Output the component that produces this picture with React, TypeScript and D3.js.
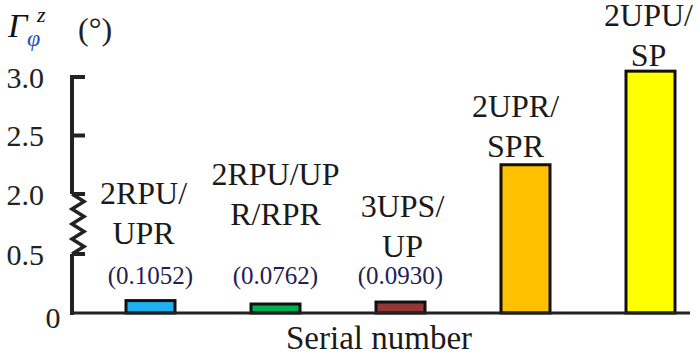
import React from "react";
import * as d3 from "d3";

// ---- data ----
const categories = ["2RPU/UPR", "2RPU/UPR/RPR", "3UPS/UP", "2UPR/SPR", "2UPU/SP"];
const labelLines = [
  ["2RPU/", "UPR"],
  ["2RPU/UP", "R/RPR"],
  ["3UPS/", "UP"],
  ["2UPR/", "SPR"],
  ["2UPU/", "SP"],
];
const values = [0.1052, 0.0762, 0.093, 2.25, 3.05];
const valueLabels = ["(0.1052)", "(0.0762)", "(0.0930)", "", ""];
const yTickValues = [0.5, 2.0, 2.5, 3.0];
const yTickLabels = ["0.5", "2.0", "2.5", "3.0"];
const xTitle = "Serial number";

// ---- styles / layout ----
const barColors = ["#1fb0f0", "#00b050", "#943634", "#ffc000", "#ffff00"];
const labelDx = [-7, 0, 2, -10, -2];
const labelDy = [0, -19, 13, 0, 3];

const W = 700;
const H = 355;
const FONT = "Liberation Serif, Tinos, DejaVu Serif, Times New Roman, serif";

export default function App() {
  const axisX = 72;
  const y = d3
    .scaleLinear()
    .domain([0, 0.5, 2.0, 3.0])
    .range([313, 254, 194, 77]);
  const x = d3
    .scaleBand<string>()
    .domain(categories)
    .range([88, 713])
    .paddingInner(0.608)
    .paddingOuter(0.304);

  const y0 = y(0);
  const zzTop = y(2.0);
  const zzBot = y(0.5);
  const nSeg = 8;
  const zzPts: [number, number][] = d3.range(nSeg + 1).map((i) => [
    i === 0 || i === nSeg ? axisX : i % 2 === 1 ? axisX + 12 : axisX,
    zzTop + ((zzBot - zzTop) * i) / nSeg,
  ]);
  const zz = d3.line()(zzPts) || "";

  const lineGap = 40;

  return (
    <svg
      width={W}
      height={H}
      style={{ position: "absolute", left: 0, top: 0, background: "#fff", fontFamily: FONT }}
    >
      {/* y-axis label */}
      <text x={8} y={37} fontSize={34} fontStyle="italic" fill="#111" style={{ fontFamily: FONT }}>
        Γ
      </text>
      <text x={27} y={46} fontSize={24} fontStyle="italic" fill="#1f4fbf" style={{ fontFamily: FONT }}>
        φ
      </text>
      <text x={37} y={22} fontSize={22} fontStyle="italic" fill="#111" style={{ fontFamily: FONT }}>
        z
      </text>
      <text x={78} y={40} fontSize={32} fill="#222" style={{ fontFamily: FONT }}>
        (°)
      </text>

      {/* bars */}
      {values.map((v, i) => {
        const bx = x(categories[i]) as number;
        return (
          <rect
            key={"b" + i}
            x={bx}
            y={y(v)}
            width={x.bandwidth()}
            height={y0 - y(v)}
            fill={barColors[i]}
            stroke="#111"
            strokeWidth={3}
          />
        );
      })}

      {/* axes */}
      <line x1={axisX} x2={axisX} y1={y(3.0) - 2} y2={zzTop} stroke="#222" strokeWidth={4} />
      <path d={zz} fill="none" stroke="#222" strokeWidth={3.5} strokeLinejoin="miter" />
      <line x1={axisX} x2={axisX} y1={zzBot} y2={y0 + 2} stroke="#222" strokeWidth={4} />
      <line x1={axisX - 2} x2={690} y1={y0} y2={y0} stroke="#222" strokeWidth={3} />
      {yTickValues.map((t, i) => (
        <g key={"t" + i}>
          <line x1={axisX} x2={axisX + 13} y1={y(t)} y2={y(t)} stroke="#222" strokeWidth={4} />
          <text
            x={44}
            y={y(t)}
            dy="0.35em"
            textAnchor="end"
            fontSize={30}
            fill="#222"
            style={{ fontFamily: FONT }}
          >
            {yTickLabels[i]}
          </text>
        </g>
      ))}
      <text x={53} y={328} textAnchor="middle" fontSize={30} fill="#222" style={{ fontFamily: FONT }}>
        0
      </text>

      {/* bar labels */}
      {values.map((v, i) => {
        const cx = (x(categories[i]) as number) + x.bandwidth() / 2;
        const hasVal = valueLabels[i] !== "";
        const valBase = y0 - 29;
        const lastBase = hasVal ? valBase - lineGap + labelDy[i] : y(v) - 8 + labelDy[i];
        const lines = labelLines[i];
        return (
          <g key={"l" + i}>
            {lines.map((s, j) => (
              <text
                key={j}
                x={cx + labelDx[i]}
                y={lastBase - (lines.length - 1 - j) * lineGap}
                textAnchor="middle"
                fontSize={32}
                fill="#1a1a1a"
                style={{ fontFamily: FONT }}
              >
                {s}
              </text>
            ))}
            {hasVal && (
              <text
                x={cx}
                y={valBase}
                textAnchor="middle"
                fontSize={25}
                fill="#1f2152"
                style={{ fontFamily: FONT }}
              >
                {valueLabels[i]}
              </text>
            )}
          </g>
        );
      })}

      {/* x title */}
      <text x={379} y={349} textAnchor="middle" fontSize={33} fill="#1a1a1a" style={{ fontFamily: FONT }}>
        {xTitle}
      </text>
    </svg>
  );
}
